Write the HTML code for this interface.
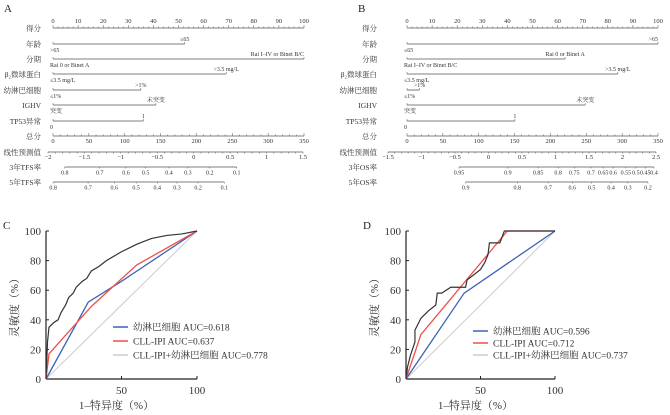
<!DOCTYPE html>
<html><head><meta charset="utf-8">
<style>
body{margin:0;background:#fff}
svg{display:block;font-family:"Liberation Serif","Noto Serif CJK SC",serif}
</style></head><body>
<svg id="s" width="670" height="415" viewBox="0 0 670 415" xmlns="http://www.w3.org/2000/svg"></svg>
<script>
// ---------- Data ----------
const rowLabelsA = ["得分","年龄","分期","β₂微球蛋白","幼淋巴细胞","IGHV","TP53异常","总分","线性预测值","3年TFS率","5年TFS率"];
const rowLabelsB = ["得分","年龄","分期","β₂微球蛋白","幼淋巴细胞","IGHV","TP53异常","总分","线性预测值","3年OS率","5年OS率"];
const varPointsA = [52.5,100,69,35,41,36];
const varTopA = ["≤65","Rai I–IV or Binet B/C",">3.5 mg/L",">1%","未突变","1"];
const varBotA = [">65","Rai 0 or Binet A","≤3.5 mg/L","≤1%","突变","0"];
const varPointsB = [100,63,84,5,71,43];
const varTopB = [">65","Rai 0 or Binet A",">3.5 mg/L",">1%","未突变","1"];
const varBotB = ["≤65","Rai I–IV or Binet B/C","≤3.5 mg/L","≤1%","突变","0"];
const lpTicksA = [-2,-1.5,-1,-0.5,0,0.5,1,1.5];
const lpTicksB = [-1.5,-1,-0.5,0,0.5,1,1.5,2.0,2.5];
const surv3A = ["0.8","0.7","0.6","0.5","0.4","0.3","0.2","0.1"];
const surv3Apos = [-1.77,-1.29,-0.93,-0.66,-0.34,-0.08,0.22,0.59];
const surv5A = ["0.8","0.7","0.6","0.5","0.4","0.3","0.2","0.1"];
const surv5Apos = [-1.93,-1.45,-1.09,-0.79,-0.50,-0.23,0.06,0.42];
const surv3B = ["0.95","0.9","0.85","0.8","0.75","0.7","0.65","0.6","0.55","0.5","0.45","0.4"];
const surv3Bpos = [-0.44,0.29,0.74,1.04,1.28,1.53,1.71,1.86,2.05,2.20,2.34,2.47];
const surv5B = ["0.9","0.8","0.7","0.6","0.5","0.4","0.3","0.2"];
const surv5Bpos = [-0.34,0.43,0.89,1.25,1.54,1.83,2.08,2.38];
// ROC C
const cBlackX=[0,0.5,1,2,5,8,10,13,15,18,20,24,27,30,35,40,50,60,65,70,80,90,100];
const cBlackY=[0,12,25,35,38,40,45,50,55,58,62,66,68,73,76,80,86,91,93,95,97,98,100];
const cBlueX=[0,28,50,100], cBlueY=[0,52,66,100];
const cRedX=[0,2,30,60,100], cRedY=[0,17,49,77,100];
// ROC D
const dBlackX=[0,1,3,6,6,8,10,15,20,21,24,30,40,41,45,50,53,55,56,63,66,100];
const dBlackY=[0,8,16,25,33,37,41,46,50,58,58,62,62,67,70,74,79,84,92,92,100,100];
const dBlueX=[0,39,100], dBlueY=[0,58,100];
const dRedX=[0,10,68,100], dRedY=[0,30,100,100];
const legC=["幼淋巴细胞 AUC=0.618","CLL-IPI  AUC=0.637","CLL-IPI+幼淋巴细胞 AUC=0.778"];
const legD=["幼淋巴细胞 AUC=0.596","CLL-IPI  AUC=0.712","CLL-IPI+幼淋巴细胞 AUC=0.737"];

// ---------- helpers ----------
const S=document.getElementById('s'), NS="http://www.w3.org/2000/svg";
function el(t,a,p){const e=document.createElementNS(NS,t);for(const k in a)e.setAttribute(k,a[k]);(p||S).appendChild(e);return e;}
function tx(x,y,s,sz,anc,p,fill){const e=el('text',{x:x,y:y,'font-size':sz,'text-anchor':anc||'start',fill:fill||'#333'},p);e.textContent=s;return e;}
const rowY=[28,44,59,74,90,105,121,136,152,167,182];

function nomogram(px0,px1,lpMin,lpMax,lpX0,lpX1,labels,pts,top,bot,lpT,s3,s3p,s5,s5p,name,letter,labRight){
  const g=el('g',{});
  
  
  tx(px0-49,12,letter,11,'start',g,'#222');
  const sx=v=>px0+(px1-px0)*v/100;
  const tot=v=>px0+(px1-px0)*v/350;
  const lp=v=>lpX0+(lpX1-lpX0)*(v-lpMin)/(lpMax-lpMin);
  labels.forEach((l,i)=>{tx(labRight,rowY[i]+3,l,7.5,'end',g);});
  el('line',{x1:sx(0),x2:sx(100),y1:28,y2:28,stroke:'#555','stroke-width':0.8},g);
  for(let v=0;v<=100;v+=2){el('line',{x1:sx(v),x2:sx(v),y1:28,y2:v%10?26.5:25,stroke:'#555','stroke-width':0.5},g);}
  for(let v=0;v<=100;v+=10)tx(sx(v),23,String(v),6.5,'middle',g);
  pts.forEach((p,i)=>{const y=rowY[i+1];
    el('line',{x1:sx(0),x2:sx(p),y1:y,y2:y,stroke:'#555','stroke-width':0.8},g);
    el('line',{x1:sx(0),x2:sx(0),y1:y-2,y2:y,stroke:'#555','stroke-width':0.5},g);
    el('line',{x1:sx(p),x2:sx(p),y1:y-2,y2:y,stroke:'#555','stroke-width':0.5},g);
    tx(Math.min(sx(p),px1+25),y-3,top[i],6,p>95?'end':'middle',g);
    tx(sx(0)-3,y+8,bot[i],6,'start',g);});
  el('line',{x1:tot(0),x2:tot(350),y1:136,y2:136,stroke:'#555','stroke-width':0.8},g);
  for(let v=0;v<=350;v+=10)el('line',{x1:tot(v),x2:tot(v),y1:136,y2:v%50?134.5:133,stroke:'#555','stroke-width':0.5},g);
  for(let v=0;v<=350;v+=50)tx(tot(v),143,String(v),6.5,'middle',g);
  el('line',{x1:lp(lpMin),x2:lp(lpMax),y1:152,y2:152,stroke:'#555','stroke-width':0.8},g);
  for(let v=lpMin;v<=lpMax+1e-9;v+=0.1)el('line',{x1:lp(v),x2:lp(v),y1:152,y2:153.5,stroke:'#555','stroke-width':0.5},g);
  lpT.forEach(v=>tx(lp(v),159,String(v).replace('-','−'),6.5,'middle',g));
  [[s3,s3p,167],[s5,s5p,182]].forEach(([lab,pos,y])=>{
    el('line',{x1:lp(pos[0]),x2:lp(pos[pos.length-1]),y1:y,y2:y,stroke:'#555','stroke-width':0.8},g);
    pos.forEach((p,k)=>{el('line',{x1:lp(p),x2:lp(p),y1:y,y2:y+1.5,stroke:'#555','stroke-width':0.5},g);tx(lp(p),y+7.5,lab[k],6,'middle',g);});
  });
}
nomogram(53,304,-2,1.5,48,303,rowLabelsA,varPointsA,varTopA,varBotA,lpTicksA,surv3A,surv3Apos,surv5A,surv5Apos,'nomogram-a','A',41);
nomogram(407,658,-1.5,2.5,388,656,rowLabelsB,varPointsB,varTopB,varBotB,lpTicksB,surv3B,surv3Bpos,surv5B,surv5Bpos,'nomogram-b','B',377);

function roc(x0,x1,name,letter,bx,by,ux,uy,rx,ry,leg,lx,ly,ldy){
  const g=el('g',{});
  
  
  const y0=379,y1=231;
  const X=v=>x0+(x1-x0)*v/100, Y=v=>y0+(y1-y0)*v/100;
  tx(x0-43,229,letter,11,'start',g,'#222');
  el('line',{x1:x0,x2:x0,y1:y1,y2:y0,stroke:'#222','stroke-width':1.2},g);
  el('line',{x1:x0,x2:x1,y1:y0,y2:y0,stroke:'#222','stroke-width':1.2},g);
  [0,20,40,60,80,100].forEach(v=>{el('line',{x1:x0,x2:x0+3,y1:Y(v),y2:Y(v),stroke:'#222'},g);tx(x0-5,Y(v)+4,String(v),11,'end',g);});
  [50,100].forEach(v=>{el('line',{x1:X(v),x2:X(v),y1:y0,y2:y0-3,stroke:'#222'},g);tx(X(v),y0+15,String(v),11,'middle',g);});
  const t=tx(0,0,'灵敏度（%）',11,'middle',g);t.setAttribute('transform',`translate(${x0-28},${(y0+y1)/2}) rotate(-90)`);
  tx((x0+x1)/2-5,409,'1–特异度（%）',11,'middle',g);
  const ln=(xs,ys,c,w,nm)=>{const p=el('polyline',{points:xs.map((v,i)=>X(v)+','+Y(ys[i])).join(' '),fill:'none',stroke:c,'stroke-width':w},g);};
  ln([0,100],[0,100],'#ccc',1,'reference-line');
  ln(ux,uy,'#3a62b8',1.3,'line-prolymphocyte');
  ln(rx,ry,'#f0504a',1.3,'line-cll-ipi');
  ln(bx,by,'#333',1.2,'line-combined');
  ['#3a62b8','#f0504a','#ccc'].forEach((c,i)=>{
    const e=el('line',{x1:lx,x2:lx+15,y1:ly+i*ldy,y2:ly+i*ldy,stroke:c,'stroke-width':1.5},g);
    
    tx(lx+20,ly+i*ldy+3.5,leg[i],9.5,'start',g);});
}
roc(46,197,'roc-chart-c','C',cBlackX,cBlackY,cBlueX,cBlueY,cRedX,cRedY,legC,113,327,14);
roc(406,555,'roc-chart-d','D',dBlackX,dBlackY,dBlueX,dBlueY,dRedX,dRedY,legD,473,331,12);
</script>
</body></html>
